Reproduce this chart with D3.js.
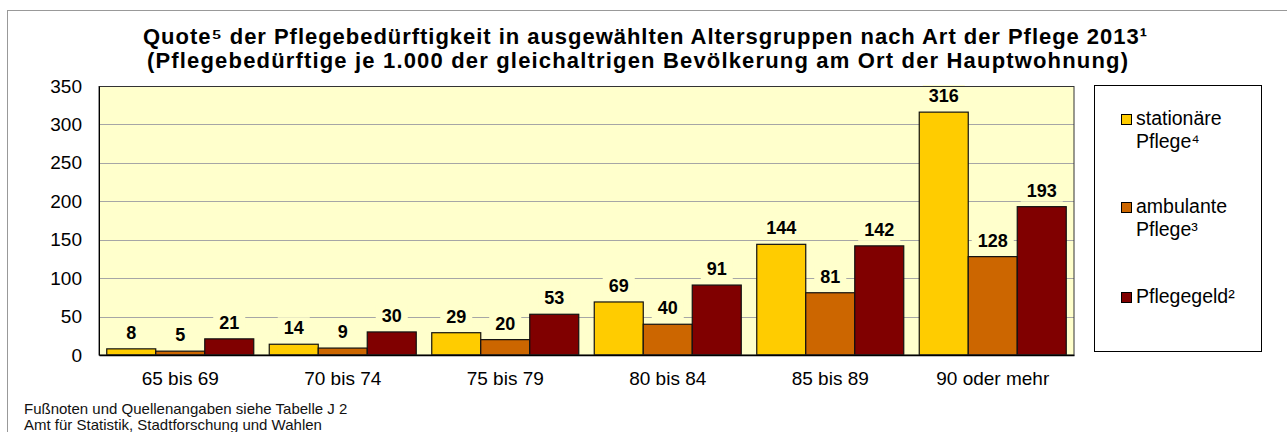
<!DOCTYPE html>
<html>
<head>
<meta charset="utf-8">
<script src="https://cdn.jsdelivr.net/npm/d3@7"></script>
<style>
  body { margin: 0; background: #fff; }
  svg { display: block; font-family: Arial, "Liberation Sans", sans-serif; }
</style>
</head>
<body>
<div id="container"></div>
<script>
const ageGroups = ["65 bis 69", "70 bis 74", "75 bis 79", "80 bis 84", "85 bis 89", "90 oder mehr"];
const seriesNames = ["stationär", "ambulant", "pflegegeld"];
const stationaer = [8, 14, 29, 69, 144, 316];
const ambulant = [5, 9, 20, 40, 81, 128];
const pflegegeld = [21, 30, 53, 91, 142, 193];
const legendLabels = [["stationäre", "Pflege⁴"], ["ambulante", "Pflege³"], ["Pflegegeld²"]];
const yTicks = [0, 50, 100, 150, 200, 250, 300, 350];

const colors = ["#FFCC00", "#CC6600", "#800000"];
const plotFill = "#FFFFCC";

const width = 1287, height = 432;
const plotLeft = 99, plotRight = 1074, plotTop = 86, plotBottom = 355;

const svg = d3.select("#container").append("svg")
  .attr("width", width).attr("height", height);

// outer chart frame
svg.append("rect")
  .attr("x", 7.5).attr("y", 10.5)
  .attr("width", width + 20).attr("height", height + 20)
  .attr("fill", "none").attr("stroke", "#999");

// title
const title = svg.append("text")
  .attr("text-anchor", "middle")
  .attr("font-weight", "bold")
  .attr("font-size", 22);
title.append("tspan").attr("x", 645).attr("y", 44)
  .attr("textLength", 1004).attr("lengthAdjust", "spacing")
  .text("Quote⁵ der Pflegebedürftigkeit in ausgewählten Altersgruppen nach Art der Pflege 2013¹");
title.append("tspan").attr("x", 637.5).attr("y", 68)
  .attr("textLength", 981).attr("lengthAdjust", "spacing")
  .text("(Pflegebedürftige je 1.000 der gleichaltrigen Bevölkerung am Ort der Hauptwohnung)");

const x = d3.scaleBand().domain(ageGroups).range([plotLeft, plotRight]);
const xInner = d3.scaleBand().domain(seriesNames).range([7.75, x.bandwidth() - 7.75]);
const y = d3.scaleLinear().domain([0, 350]).range([plotBottom, plotTop]);

// plot background
svg.append("rect")
  .attr("x", plotLeft).attr("y", plotTop)
  .attr("width", plotRight - plotLeft).attr("height", plotBottom - plotTop)
  .attr("fill", plotFill);

// gridlines
svg.append("g")
  .selectAll("line")
  .data(yTicks.filter(d => d > 0 && d < 350))
  .join("line")
  .attr("x1", plotLeft).attr("x2", plotRight)
  .attr("y1", d => Math.round(y(d)) + 0.5).attr("y2", d => Math.round(y(d)) + 0.5)
  .attr("stroke", "#a6a6a6");

const rows = ageGroups.map((g, i) => ({
  group: g,
  values: [stationaer[i], ambulant[i], pflegegeld[i]]
}));

const groups = svg.append("g")
  .selectAll("g")
  .data(rows)
  .join("g")
  .attr("transform", d => `translate(${x(d.group)},0)`);

groups.selectAll("rect")
  .data(d => d.values.map((v, j) => ({ key: seriesNames[j], value: v, j })))
  .join("rect")
  .attr("x", d => xInner(d.key))
  .attr("y", d => y(d.value))
  .attr("width", xInner.bandwidth())
  .attr("height", d => y(0) - y(d.value))
  .attr("fill", d => colors[d.j])
  .attr("stroke", "#111")
  .attr("stroke-width", 1.2);

// value labels with background patches
const labels = groups.selectAll("g.lbl")
  .data(d => d.values.map((v, j) => ({ key: seriesNames[j], value: v })))
  .join("g")
  .attr("class", "lbl");

labels.append("text")
  .attr("x", d => xInner(d.key) + xInner.bandwidth() / 2)
  .attr("y", d => y(d.value) - 10)
  .attr("text-anchor", "middle")
  .attr("font-weight", "bold")
  .attr("font-size", 18)
  .text(d => d.value)
  .each(function () {
    const b = this.getBBox();
    d3.select(this.parentNode).insert("rect", "text")
      .attr("x", b.x - 6).attr("y", b.y - 1)
      .attr("width", b.width + 12).attr("height", b.height + 2)
      .attr("fill", plotFill);
  });

// plot border
svg.append("rect")
  .attr("x", plotLeft).attr("y", plotTop + 0.5)
  .attr("width", plotRight - plotLeft).attr("height", plotBottom - plotTop - 0.5)
  .attr("fill", "none").attr("stroke", "#333");

// axes
const yAxis = svg.append("g")
  .attr("transform", `translate(${plotLeft},0)`)
  .call(d3.axisLeft(y).tickValues(yTicks).tickSize(0).tickPadding(17));
yAxis.select(".domain").attr("stroke", "#000");
yAxis.selectAll("text").attr("font-size", 19).attr("fill", "#000").attr("font-family", "Arial, 'Liberation Sans', sans-serif");

const xAxis = svg.append("g")
  .attr("transform", `translate(0,${plotBottom})`)
  .call(d3.axisBottom(x).tickSize(0));
xAxis.select(".domain").attr("stroke", "#000").attr("stroke-width", 1.5);
xAxis.selectAll("text")
  .attr("y", 30).attr("dy", 0)
  .attr("font-size", 19).attr("fill", "#000").attr("font-family", "Arial, 'Liberation Sans', sans-serif");

// legend
svg.append("rect")
  .attr("x", 1094.5).attr("y", 85.5)
  .attr("width", 167).attr("height", 266)
  .attr("fill", "#fff").attr("stroke", "#000");

const legendY = [125, 213, 303];
const legend = svg.append("g")
  .selectAll("g")
  .data(legendLabels)
  .join("g");

legend.append("rect")
  .attr("x", 1121.5).attr("y", (d, i) => legendY[i] - 10.5)
  .attr("width", 10).attr("height", 10)
  .attr("fill", (d, i) => colors[i])
  .attr("stroke", "#000");

legend.append("text")
  .attr("font-size", 19.5)
  .each(function (d, i) {
    d.forEach((line, k) => {
      d3.select(this).append("tspan")
        .attr("x", 1136).attr("y", legendY[i] + k * 23)
        .text(line);
    });
  });

// footnotes
const foot = svg.append("text").attr("font-size", 15).attr("fill", "#111");
foot.append("tspan").attr("x", 24).attr("y", 414).text("Fußnoten und Quellenangaben siehe Tabelle J 2");
foot.append("tspan").attr("x", 24).attr("y", 430).text("Amt für Statistik, Stadtforschung und Wahlen");
</script>
</body>
</html>
